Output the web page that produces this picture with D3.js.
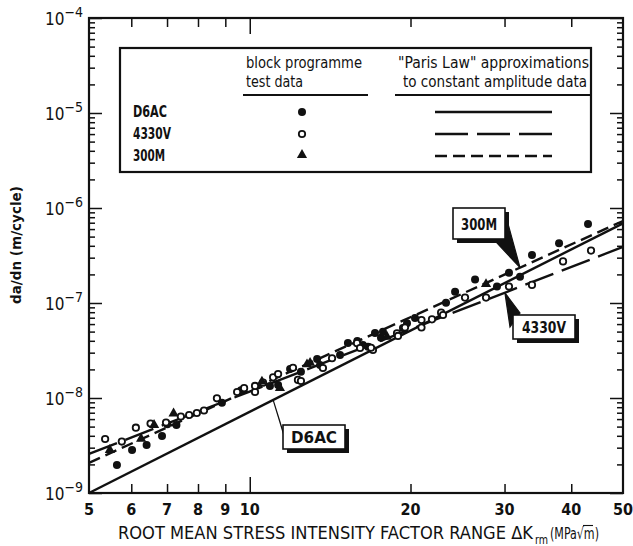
<!DOCTYPE html>
<html>
<head>
<meta charset="utf-8">
<script src="https://cdn.jsdelivr.net/npm/d3@7"></script>
<style>
  body { margin: 0; background: #fff; }
  svg text { font-family: "DejaVu Sans", sans-serif; font-stretch: condensed; fill: #111; }
</style>
</head>
<body>
<div id="chart"></div>
<script>
// block programme test data: [dK (MPa sqrt m), da/dn (m/cycle)]
var d6acPoints = [
	[5.64,1.97e-9],[6.02,2.84e-9],[6.41,3.20e-9],[6.85,3.98e-9],[7.01,5.3e-9],[7.29,5.20e-9],
	[8.87,8.93e-9],[9.63,1.21e-8],[10.91,1.34e-8],[11.30,1.37e-8],[11.90,2.02e-8],[12.47,1.89e-8],
	[13.37,2.57e-8],[13.54,2.22e-8],[14.76,2.84e-8],[15.27,3.80e-8],[15.9,3.98e-8],[16.29,3.61e-8],
	[16.65,3.47e-8],[17.16,4.83e-8],[17.61,4.32e-8],[17.76,4.99e-8],[19.36,5.46e-8],[19.7,6.11e-8],
	[20.39,6.95e-8],[23.31,1.007e-7],[24.24,1.31e-7],[26.42,1.77e-7],[29.04,1.49e-7],[30.58,2.08e-7],
	[32.07,1.89e-7],[33.77,3.20e-7],[37.95,4.25e-7],[43.0,6.79e-7]
];
var v4330Points = [
	[5.36,3.70e-9],[5.76,3.48e-9],[6.12,4.87e-9],[6.52,5.39e-9],[6.97,5.52e-9],[7.43,6.38e-9],
	[7.70,6.62e-9],[7.96,6.95e-9],[8.21,7.39e-9],[8.68,9.93e-9],[9.47,1.156e-8],[9.76,1.27e-8],
	[10.23,1.156e-8],[10.23,1.34e-8],[10.59,1.45e-8],[11.06,1.65e-8],[11.30,1.79e-8],[12.05,2.08e-8],
	[12.31,1.55e-8],[12.47,1.51e-8],[13.71,2.07e-8],[14.26,2.62e-8],[15.88,3.78e-8],[16.09,3.36e-8],
	[17.01,3.20e-8],[16.87,3.38e-8],[18.87,4.80e-8],[18.95,4.50e-8],[19.53,5.52e-8],[20.97,5.52e-8],
	[20.97,6.62e-8],[21.94,6.73e-8],[22.82,7.91e-8],[23.01,7.48e-8],[25.30,1.14e-7],[27.70,1.14e-7],
	[30.58,1.49e-7],[33.77,1.55e-7],[38.61,2.74e-7],[43.56,3.56e-7]
];
var m300Points = [
	[5.47,2.84e-9],[6.26,3.73e-9],[6.62,5.20e-9],[7.20,6.87e-9],[10.54,1.49e-8],[11.39,1.27e-8],
	[12.80,2.26e-8],[12.97,2.34e-8],[18.07,4.42e-8],[27.70,1.58e-7]
];

// "Paris Law" fits to constant amplitude data, end points
var d6acLine = [[5,1.0e-9],[50,6.9e-7]];
var v4330Line = [[5,2.58e-9],[50,3.9e-7]];
var m300Line = [[5,2.08e-9],[50,7.3e-7]];

var steels = ["D6AC","4330V","300M"];
var xTicks = [5,6,7,8,9,10,20,30,40,50];
var xTickLabels = ["5","6","7","8","9","10","20","30","40","50"];
var yMajor = [1e-9,1e-8,1e-7,1e-6,1e-5,1e-4];
var yExponents = ["\u22129","\u22128","\u22127","\u22126","\u22125","\u22124"];

var W = 633, H = 546;
var x0 = 89, x1 = 623, y0 = 18, y1 = 493;

var svg = d3.select("#chart").append("svg")
	.attr("width", W)
	.attr("height", H);

var x = d3.scaleLog().domain([5,50]).range([x0,x1]);
var y = d3.scaleLog().domain([1e-9,1e-4]).range([y1,y0]);

// minor y ticks
var yMinor = y.ticks().filter(function(v) { return yMajor.indexOf(v) < 0; });

function tidy(g) {
	g.select(".domain").remove();
	g.selectAll(".tick line").attr("stroke","#111").attr("stroke-width",1.5);
}

svg.append("g").attr("transform","translate("+x0+",0)")
	.call(d3.axisLeft(y).tickValues(yMinor).tickSize(-6).tickFormat("")).call(tidy);
svg.append("g").attr("transform","translate("+x0+",0)")
	.call(d3.axisLeft(y).tickValues(yMajor).tickSize(-13).tickFormat("")).call(tidy);
svg.append("g").attr("transform","translate("+x1+",0)")
	.call(d3.axisRight(y).tickValues(yMinor).tickSize(-6).tickFormat("")).call(tidy);
svg.append("g").attr("transform","translate("+x1+",0)")
	.call(d3.axisRight(y).tickValues(yMajor).tickSize(-13).tickFormat("")).call(tidy);

// x ticks: 10 is long, the rest short
var xShort = xTicks.filter(function(v) { return v != 10 && v != 5 && v != 50; });
svg.append("g").attr("transform","translate(0,"+y1+")")
	.call(d3.axisBottom(x).tickValues(xShort).tickSize(-9).tickFormat("")).call(tidy);
svg.append("g").attr("transform","translate(0,"+y1+")")
	.call(d3.axisBottom(x).tickValues([10]).tickSize(-16).tickFormat("")).call(tidy);
svg.append("g").attr("transform","translate(0,"+y0+")")
	.call(d3.axisTop(x).tickValues(xShort).tickSize(-9).tickFormat("")).call(tidy);
svg.append("g").attr("transform","translate(0,"+y0+")")
	.call(d3.axisTop(x).tickValues([10]).tickSize(-16).tickFormat("")).call(tidy);

// frame
svg.append("rect")
	.attr("x",x0).attr("y",y0)
	.attr("width",x1-x0).attr("height",y1-y0)
	.attr("fill","none").attr("stroke","#111").attr("stroke-width",2.2);

// x tick labels
svg.selectAll(".xlab")
	.data(xTicks)
	.enter().append("text")
	.attr("class","xlab")
	.attr("x", function(d) { return x(d); })
	.attr("y", y1+22)
	.attr("text-anchor","middle")
	.style("font-size","16px")
	.style("font-weight","bold")
	.text(function(d,i) { return xTickLabels[i]; });

// y tick labels 10^n
var ylab = svg.selectAll(".ylab")
	.data(yMajor)
	.enter().append("text")
	.attr("class","ylab")
	.attr("x", 45)
	.attr("y", function(d) { return y(d)+7; })
	.style("font-size","17px");
ylab.append("tspan").text("10");
ylab.append("tspan")
	.attr("dy",-8)
	.style("font-size","14px")
	.text(function(d,i) { return yExponents[i]; });

// axis titles
svg.append("text")
	.attr("transform","translate(21,245) rotate(-90)")
	.attr("text-anchor","middle")
	.attr("textLength",118)
	.attr("lengthAdjust","spacingAndGlyphs")
	.style("font-size","14px")
	.style("font-weight","bold")
	.text("da/dn (m/cycle)");

var xTitle = [
	{t:"ROOT MEAN STRESS INTENSITY FACTOR RANGE \u0394K", x:118, y:539, w:415, fs:17},
	{t:"rm", x:535, y:544, w:13, fs:13},
	{t:"(MPa\u221Am)", x:550, y:539, w:49, fs:16}
];
xTitle.forEach(function(p) {
	svg.append("text")
		.attr("x",p.x).attr("y",p.y)
		.attr("textLength",p.w)
		.attr("lengthAdjust","spacingAndGlyphs")
		.style("font-size",p.fs+"px")
		.text(p.t);
});
// bar over the m under the root sign
svg.append("line")
	.attr("x1",583).attr("x2",593).attr("y1",525.5).attr("y2",525.5)
	.attr("stroke","#111").attr("stroke-width",1.1);

// Paris law lines
var line = d3.line()
	.x(function(d) { return x(d[0]); })
	.y(function(d) { return y(d[1]); });
var dashes = ["none","30,9","12,6"];
var parisLines = [d6acLine, v4330Line, m300Line];

svg.append("g").selectAll("path")
	.data(parisLines)
	.enter().append("path")
	.attr("d", line)
	.attr("fill","none")
	.attr("stroke","#111")
	.attr("stroke-width",2.4)
	.attr("stroke-dasharray", function(d,i) { return dashes[i]; });

// data points
var pts = svg.append("g");
pts.selectAll(".d6").data(d6acPoints).enter().append("circle")
	.attr("cx", function(d) { return x(d[0]); })
	.attr("cy", function(d) { return y(d[1]); })
	.attr("r", 4)
	.attr("fill","#111");
pts.selectAll(".v4").data(v4330Points).enter().append("circle")
	.attr("cx", function(d) { return x(d[0]); })
	.attr("cy", function(d) { return y(d[1]); })
	.attr("r", 3.2)
	.attr("fill","#fff")
	.attr("stroke","#111")
	.attr("stroke-width",1.8);
var tri = d3.symbol().type(d3.symbolTriangle).size(45);
pts.selectAll(".m3").data(m300Points).enter().append("path")
	.attr("transform", function(d) { return "translate("+x(d[0])+","+y(d[1])+")"; })
	.attr("d", tri)
	.attr("fill","#111");

// callout labels: tip sits on the line, box in pixels
var callouts = [
	{name:"D6AC", w:46, tip:[11.06, 9.55e-9], box:[283,425,62,24], base:[[280,422],[286,442]]},
	{name:"300M", w:36, tip:[32.07, 2.36e-7], box:[453,208,52,31], base:[[507,220],[496,242]]},
	{name:"4330V", w:44, tip:[30.05, 1.28e-7], box:[513,315,62,24], base:[[510,327],[520,313]]}
];
callouts.forEach(function(c) {
	var tx = x(c.tip[0]), ty = y(c.tip[1]);
	svg.append("path")
		.attr("d","M"+tx+","+ty+"L"+c.base[0][0]+","+c.base[0][1]+"L"+c.base[1][0]+","+c.base[1][1]+"Z")
		.attr("fill","#111").attr("stroke","#111").attr("stroke-width",1.2);
	svg.append("rect")
		.attr("x",c.box[0]+4).attr("y",c.box[1]+4)
		.attr("width",c.box[2]).attr("height",c.box[3])
		.attr("fill","#111");
	svg.append("rect")
		.attr("x",c.box[0]).attr("y",c.box[1])
		.attr("width",c.box[2]).attr("height",c.box[3])
		.attr("fill","#fff").attr("stroke","#111").attr("stroke-width",1.6);
	svg.append("text")
		.attr("x",c.box[0]+c.box[2]/2-c.w/2)
		.attr("y",c.box[1]+c.box[3]/2+6)
		.attr("textLength",c.w)
		.attr("lengthAdjust","spacingAndGlyphs")
		.style("font-size","16px")
		.style("font-weight","bold")
		.text(c.name);
});

// legend
var lg = svg.append("g");
lg.append("rect")
	.attr("x",120).attr("y",48).attr("width",471).attr("height",124)
	.attr("fill","#fff").attr("stroke","#111").attr("stroke-width",2.2);
var legendHead = [
	{t:"block programme", x:246, y:68, w:116},
	{t:"test data", x:246, y:87, w:57},
	{t:"\"Paris Law\" approximations", x:398, y:68, w:191},
	{t:"to constant amplitude data", x:403, y:87, w:184}
];
legendHead.forEach(function(h) {
	lg.append("text").attr("x",h.x).attr("y",h.y)
		.attr("textLength",h.w).attr("lengthAdjust","spacingAndGlyphs")
		.style("font-size","16px").text(h.t);
});
lg.append("line").attr("x1",243).attr("x2",368).attr("y1",95).attr("y2",95)
	.attr("stroke","#111").attr("stroke-width",1.8);
lg.append("line").attr("x1",395).attr("x2",590).attr("y1",95).attr("y2",95)
	.attr("stroke","#111").attr("stroke-width",1.8);

var rowY = [112,134,156];
var labelW = [34,38,32];
steels.forEach(function(s,i) {
	lg.append("text").attr("x",133).attr("y",rowY[i]+5)
		.attr("textLength",labelW[i]).attr("lengthAdjust","spacingAndGlyphs")
		.style("font-size","15px").style("font-weight","bold").text(s);
	lg.append("line").attr("x1",435).attr("x2",552).attr("y1",rowY[i]).attr("y2",rowY[i])
		.attr("stroke","#111").attr("stroke-width",2.4)
		.attr("stroke-dasharray", i == 1 ? "33,9" : dashes[i]);
});
lg.append("circle").attr("cx",302).attr("cy",rowY[0]).attr("r",4).attr("fill","#111");
lg.append("circle").attr("cx",302).attr("cy",rowY[1]).attr("r",3.2)
	.attr("fill","#fff").attr("stroke","#111").attr("stroke-width",1.8);
lg.append("path").attr("transform","translate(302,"+(rowY[2]-1)+")").attr("d",tri).attr("fill","#111");
</script>
</body>
</html>
